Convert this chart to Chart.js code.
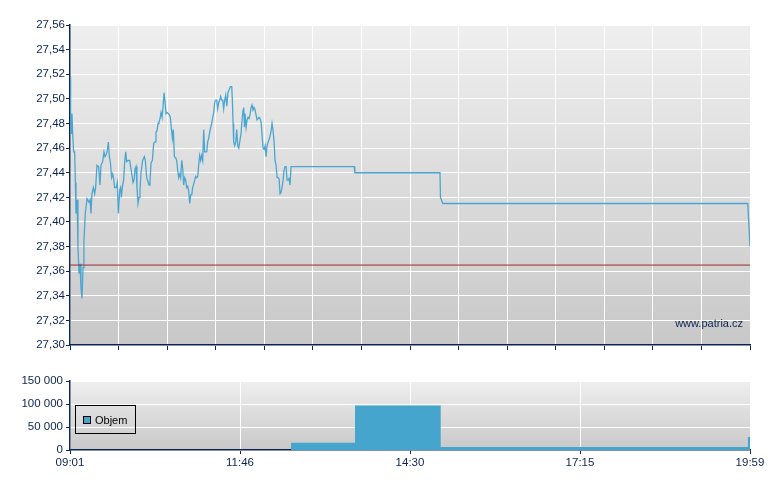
<!DOCTYPE html>
<html>
<head>
<meta charset="utf-8">
<script src="https://cdn.jsdelivr.net/npm/chart.js@4/dist/chart.umd.min.js"></script>
<style>
  body { margin: 0; background: #fff; }
  #priceBox { position: absolute; left: 0; top: 0; }
  #volBox { position: absolute; left: 0; top: 361px; }
</style>
</head>
<body>
<div id="priceBox"><canvas id="priceChart" width="780" height="353"></canvas></div>
<div id="volBox"><canvas id="volChart" width="780" height="129"></canvas></div>
<script>
// Cena - minuty od 09:01 a hodnoty
const priceTime = [0, 0.6, 1.3, 1.9, 2.6, 3.5, 4.5, 5.2, 5.8, 6.8, 7.7, 8.7, 9.7, 10.6, 11.6, 12.6, 13.5, 14.8, 16.5, 18.4,
  19.4, 20.3, 21.3, 22.6, 23.9, 24.8, 26.1, 27.7, 29.0, 30.0, 31.6, 32.9, 33.9, 35.2, 36.1, 37.1, 38.1, 39.0, 40.3, 41.3,
  42.3, 43.2, 44.8, 45.8, 46.8, 48.1, 49.0, 49.7, 50.6, 51.9, 52.9, 53.9, 54.8, 56.1, 57.7, 59.4, 61.0, 62.0, 62.9, 63.9,
  64.8, 65.8, 66.8, 67.7, 68.7, 70.3, 71.9, 72.9, 74.2, 76.5, 77.4, 78.4, 79.7, 81.0, 82.3, 83.2, 84.2, 85.2, 86.1, 87.1,
  88.1, 89.1, 90.0, 91.0, 92.0, 92.9, 93.9, 95.2, 96.2, 97.1, 98.1, 99.1, 100.0, 101.0, 102.3, 103.2, 104.2, 105.2, 106.2, 107.1,
  108.1, 109.1, 110.0, 111.0, 112.0, 112.9, 113.9, 114.9, 115.8, 116.8, 117.8, 118.7, 119.7, 120.7, 121.6, 122.6, 123.6, 124.5, 125.5, 126.5,
  127.4, 128.4, 129.4, 130.3, 131.3, 132.3, 133.2, 134.2, 135.2, 136.2, 137.1, 138.1, 139.1, 140.0, 141.0, 142.0, 142.9, 143.9, 144.9, 145.8,
  146.8, 147.8, 148.7, 149.7, 150.7, 151.7, 152.9, 154.2, 155.2, 156.5, 157.1, 157.8, 158.4, 159.4, 160.4, 161.3, 162.3, 163.3, 164.6, 165.5,
  166.5, 167.5, 168.1, 168.8, 169.4, 170.4, 171.3, 172.3, 173.3, 174.2, 175.2, 176.2, 177.1, 178.1, 179.1, 180.0, 181.0, 182.0, 182.9, 183.9,
  184.9, 185.8, 186.8, 187.8, 188.8, 189.7, 190.7, 191.7, 192.6, 193.6, 194.6, 195.5, 196.5, 197.5, 198.4, 199.4, 200.4, 201.3, 202.3, 203.3,
  204.2, 205.2, 206.2, 207.1, 208.1, 209.1, 210.0, 211.0, 211.9, 212.9, 213.9, 275.1, 275.6, 358.0, 358.5, 360.7, 655.8, 658];
const priceValue = [27.518, 27.488, 27.472, 27.488, 27.472, 27.457, 27.457, 27.432, 27.407, 27.418, 27.380, 27.358, 27.366, 27.347, 27.338, 27.363, 27.385, 27.407, 27.419, 27.416,
  27.418, 27.407, 27.423, 27.428, 27.423, 27.428, 27.446, 27.445, 27.430, 27.446, 27.449, 27.457, 27.453, 27.455, 27.458, 27.465, 27.453, 27.449, 27.436, 27.439,
  27.435, 27.428, 27.428, 27.432, 27.407, 27.426, 27.428, 27.420, 27.428, 27.434, 27.449, 27.457, 27.449, 27.450, 27.450, 27.441, 27.432, 27.434, 27.443, 27.445,
  27.428, 27.415, 27.420, 27.426, 27.440, 27.450, 27.453, 27.450, 27.436, 27.430, 27.433, 27.448, 27.450, 27.464, 27.465, 27.473, 27.474, 27.480, 27.481, 27.484,
  27.489, 27.485, 27.493, 27.505, 27.497, 27.488, 27.489, 27.488, 27.487, 27.485, 27.476, 27.468, 27.475, 27.453, 27.452, 27.450, 27.442, 27.436, 27.439, 27.436,
  27.450, 27.443, 27.430, 27.436, 27.434, 27.428, 27.429, 27.425, 27.415, 27.422, 27.422, 27.428, 27.431, 27.434, 27.437, 27.436, 27.437, 27.446, 27.454, 27.450,
  27.454, 27.450, 27.475, 27.457, 27.457, 27.457, 27.465, 27.468, 27.473, 27.477, 27.480, 27.485, 27.489, 27.497, 27.499, 27.499, 27.492, 27.497, 27.499, 27.502,
  27.499, 27.499, 27.492, 27.499, 27.503, 27.494, 27.505, 27.508, 27.510, 27.510, 27.499, 27.480, 27.465, 27.462, 27.465, 27.475, 27.462, 27.460, 27.467, 27.472,
  27.483, 27.491, 27.493, 27.477, 27.488, 27.477, 27.483, 27.485, 27.484, 27.487, 27.493, 27.495, 27.491, 27.493, 27.491, 27.487, 27.483, 27.484, 27.485, 27.484,
  27.481, 27.471, 27.460, 27.459, 27.462, 27.453, 27.462, 27.465, 27.467, 27.470, 27.474, 27.480, 27.474, 27.465, 27.450, 27.446, 27.436, 27.436, 27.435, 27.423,
  27.424, 27.428, 27.434, 27.442, 27.445, 27.445, 27.434, 27.434, 27.436, 27.430, 27.445, 27.445, 27.440, 27.440, 27.420, 27.415, 27.415, 27.380];
const prevClose = 27.365;

// Objem
const volTime = [213.9, 275.8, 358.7, 656, 658];
const volValue = [16000, 97000, 6500, 28000, 28000];

// Popisky osy casu
const timeLabels = ['09:01', '11:46', '14:30', '17:15', '19:59'];
const sessionLength = 658; // 09:01 - 19:59

const navy = '#0d2452';
const lineBlue = '#4aa6d1';
const tickFont = { family: 'Liberation Sans, Arial, sans-serif', size: 11.5 };

// Pozadi grafu s prechodem
const plotBg = {
  id: 'plotBg',
  beforeDraw(chart) {
    const { ctx, chartArea: a } = chart;
    const g = ctx.createLinearGradient(0, a.top, 0, a.bottom);
    g.addColorStop(0, '#efefef');
    g.addColorStop(1, '#c8c8c8');
    ctx.save();
    ctx.fillStyle = g;
    ctx.fillRect(a.left, a.top, a.right - a.left, a.bottom - a.top);
    ctx.restore();
  }
};

const watermark = {
  id: 'watermark',
  afterDraw(chart) {
    const { ctx } = chart;
    ctx.save();
    ctx.font = '11px Liberation Sans, Arial, sans-serif';
    ctx.fillStyle = navy;
    ctx.textAlign = 'right';
    ctx.textBaseline = 'middle';
    ctx.fillText('www.patria.cz', 743, 324);
    ctx.restore();
  }
};

const volLegend = {
  id: 'volLegend',
  afterDraw(chart) {
    const { ctx } = chart;
    ctx.save();
    ctx.strokeStyle = '#000';
    ctx.lineWidth = 1;
    ctx.strokeRect(75.5, 44.5, 60, 28);
    ctx.fillStyle = '#45a5cd';
    ctx.fillRect(83, 55, 8, 8);
    ctx.strokeRect(83.5, 55.5, 7, 7);
    ctx.font = '11px Liberation Sans, Arial, sans-serif';
    ctx.fillStyle = '#000';
    ctx.textBaseline = 'middle';
    ctx.fillText('Objem', 95, 59.5);
    ctx.restore();
  }
};

// Graf ceny
const priceChart = new Chart(document.getElementById('priceChart'), {
  type: 'line',
  data: {
    datasets: [{
      data: [{ x: 0, y: prevClose }, { x: sessionLength, y: prevClose }],
      borderColor: '#9a2c2c',
      borderWidth: 1,
      pointRadius: 0
    }, {
      data: priceTime.map((t, i) => ({ x: t, y: priceValue[i] })),
      borderColor: lineBlue,
      borderWidth: 1.3,
      pointRadius: 0,
      tension: 0
    }]
  },
  options: {
    responsive: false,
    animation: false,
    layout: { padding: { top: 25, right: 30, left: 0, bottom: 0 } },
    plugins: { legend: { display: false }, tooltip: { enabled: false } },
    scales: {
      x: {
        type: 'linear', min: 0, max: sessionLength,
        ticks: { stepSize: 47, maxTicksLimit: 15, display: false },
        grid: { color: '#ffffff', lineWidth: 1, tickColor: navy, tickLength: 5 },
        border: { color: navy, width: 1.5 },
        afterFit(s) { s.height = 5; }
      },
      y: {
        min: 27.30, max: 27.56,
        ticks: {
          stepSize: 0.02, maxTicksLimit: 14, color: navy, font: tickFont, padding: 1,
          callback: v => v.toFixed(2).replace('.', ',')
        },
        grid: { color: '#ffffff', lineWidth: 1, tickColor: navy, tickLength: 4 },
        border: { color: navy, width: 1.5 },
        afterFit(s) { s.width = 70; }
      }
    }
  },
  plugins: [plotBg, watermark]
});

// Graf objemu
const volChart = new Chart(document.getElementById('volChart'), {
  type: 'line',
  data: {
    datasets: [{
      data: volTime.map((t, i) => ({ x: t, y: volValue[i] })),
      stepped: true,
      fill: 'origin',
      backgroundColor: '#45a5cd',
      borderColor: '#45a5cd',
      borderWidth: 0,
      pointRadius: 0
    }]
  },
  options: {
    responsive: false,
    animation: false,
    layout: { padding: { top: 20, right: 30, left: 0, bottom: 0 } },
    plugins: { legend: { display: false }, tooltip: { enabled: false } },
    scales: {
      x: {
        type: 'linear', min: 0, max: sessionLength,
        ticks: {
          stepSize: sessionLength / 4, maxTicksLimit: 5, color: navy, font: tickFont, padding: 2,
          maxRotation: 0, callback: (v, i) => timeLabels[i]
        },
        grid: { color: '#ffffff', lineWidth: 1, tickColor: navy, tickLength: 4 },
        border: { color: navy, width: 1.5 },
        afterFit(s) { s.height = 40; }
      },
      y: {
        min: 0, max: 150000,
        ticks: {
          stepSize: 50000, maxTicksLimit: 4, color: navy, font: tickFont, padding: 3,
          callback: v => String(v).replace(/\B(?=(\d{3})+(?!\d))/g, ' ')
        },
        grid: { color: '#ffffff', lineWidth: 1, tickColor: navy, tickLength: 4 },
        border: { color: navy, width: 1.5 },
        afterFit(s) { s.width = 70; }
      }
    }
  },
  plugins: [plotBg, volLegend]
});
</script>
</body>
</html>
